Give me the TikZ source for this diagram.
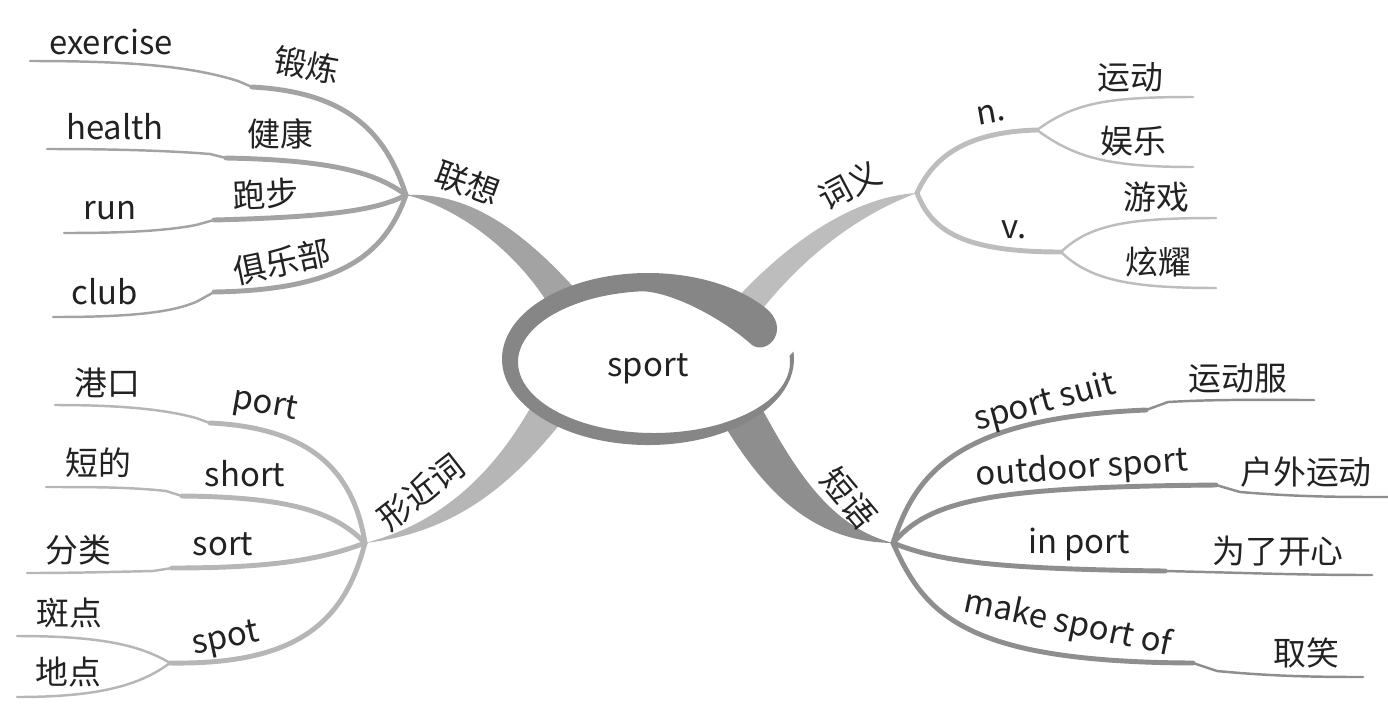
\documentclass[tikz,border=0pt]{standalone}
\usepackage{fontspec}
\setmainfont{Noto Sans CJK SC}
\usetikzlibrary{calc}
\definecolor{ringgray}{HTML}{868686}
\definecolor{lxgray}{HTML}{A3A3A3}
\definecolor{cygray}{HTML}{BDBDBD}
\definecolor{xjgray}{HTML}{B6B6B6}
\definecolor{dygray}{HTML}{8E8E8E}
\definecolor{ink}{HTML}{222222}
\begin{document}
\begin{tikzpicture}[x=0.02cm,y=-0.02cm,
  word/.style={text=ink,inner sep=0pt,font=\fontsize{18.7}{22}\selectfont},
  stem/.style={line width=2.8pt,line cap=round},
  twig/.style={line width=1.4pt,line cap=round,line join=round}]
\useasboundingbox (0,0) rectangle (1388,724);

\coordinate (h1) at (406,195);
\coordinate (h2) at (917,193);
\coordinate (h3) at (365,543);
\coordinate (h4) at (893,543);

\coordinate (p1) at (252,87);  \coordinate (q1) at (238,81);  \coordinate (e1) at (30,61);
\coordinate (p2) at (226,158); \coordinate (q2) at (210,154); \coordinate (e2) at (47,149);
\coordinate (p3) at (214,220); \coordinate (q3) at (196,225); \coordinate (e3) at (64,233);
\coordinate (p4) at (214,292); \coordinate (q4) at (198,301); \coordinate (e4) at (53,317);

\coordinate (n1) at (1037,130); \coordinate (n2) at (1061,252);
\coordinate (e5) at (1193,97);  \coordinate (e6) at (1193,167);
\coordinate (e7) at (1216,218); \coordinate (e8) at (1216,288);

\coordinate (p5) at (210,423); \coordinate (q5) at (196,418); \coordinate (e9) at (55,405);
\coordinate (p6) at (182,496); \coordinate (q6) at (166,491); \coordinate (e10) at (46,487);
\coordinate (p7) at (172,568); \coordinate (q7) at (153,571); \coordinate (e11) at (27,573);
\coordinate (n3) at (170,663);
\coordinate (e12) at (17,636); \coordinate (e13) at (17,697);

\coordinate (p8) at (1146,410);  \coordinate (q8) at (1168,402);  \coordinate (e14) at (1314,400);
\coordinate (p9) at (1216,485);  \coordinate (q9) at (1240,492);  \coordinate (e15) at (1388,497);
\coordinate (p10) at (1165,571); \coordinate (e16) at (1372,575);
\coordinate (p11) at (1193,663); \coordinate (q11) at (1217,671); \coordinate (e17) at (1363,677);

% trunks
\fill[lxgray] (h1) .. controls (465,192) and (520,225) .. (585,300) -- (555,315) .. controls (515,245) and (450,205) .. (h1) -- cycle;
\fill[cygray] (h2) .. controls (860,196) and (795,235) .. (735,300) -- (760,312) .. controls (805,255) and (860,214) .. (h2) -- cycle;
\fill[xjgray] (h3) .. controls (445,522) and (495,470) .. (532,405) -- (565,418) .. controls (515,480) and (460,532) .. (h3) -- cycle;
\fill[dygray] (760,405) .. controls (800,480) and (835,528) .. (h4) .. controls (815,542) and (765,495) .. (720,418) -- cycle;

% centre
\fill[white] (654,362) ellipse[x radius=136,y radius=71];
\fill[ringgray] (648,359) ++(-37:146 and 86) arc[start angle=-37,end angle=-365,x radius=146,y radius=86]
  -- ($(654,362)+(-365:136 and 71)$) arc[start angle=-365,end angle=-95,x radius=136,y radius=71]
  .. controls (672,292) and (722,318) .. (752,345)
  .. controls (768,356) and (792,328) .. ($(648,359)+(-37:146 and 86)$) -- cycle;
\node[word] (sp) at (648,369) {sport};

\draw[lxgray,stem] (h1) .. controls (385,130) and (345,92) .. (p1);
\draw[lxgray,twig] (p1) -- (q1) .. controls (190,66) and (130,61) .. (e1);
\draw[lxgray,stem] (h1) .. controls (375,172) and (330,160) .. (p2);
\draw[lxgray,twig] (p2) -- (q2) .. controls (160,150) and (100,149) .. (e2);
\draw[lxgray,stem] (h1) .. controls (378,210) and (330,217) .. (p3);
\draw[lxgray,twig] (p3) -- (q3) .. controls (160,232) and (110,233) .. (e3);
\draw[lxgray,stem] (h1) .. controls (385,255) and (340,290) .. (p4);
\draw[lxgray,twig] (p4) -- (q4) .. controls (170,314) and (120,317) .. (e4);

\draw[cygray,stem] (h2) .. controls (932,160) and (962,132) .. (n1);
\draw[cygray,twig] (n1) .. controls (1075,102) and (1110,97) .. (e5);
\draw[cygray,twig] (n1) .. controls (1075,158) and (1110,167) .. (e6);
\draw[cygray,stem] (h2) .. controls (932,232) and (965,252) .. (n2);
\draw[cygray,twig] (n2) .. controls (1090,224) and (1130,218) .. (e7);
\draw[cygray,twig] (n2) .. controls (1090,280) and (1130,288) .. (e8);

\draw[xjgray,stem] (h3) .. controls (355,480) and (320,428) .. (p5);
\draw[xjgray,twig] (p5) -- (q5) .. controls (160,408) and (110,405) .. (e9);
\draw[xjgray,stem] (h3) .. controls (335,512) and (290,497) .. (p6);
\draw[xjgray,twig] (p6) -- (q6) .. controls (130,487) and (90,487) .. (e10);
\draw[xjgray,stem] (h3) .. controls (320,560) and (270,568) .. (p7);
\draw[xjgray,twig] (p7) -- (q7) .. controls (110,572) and (70,573) .. (e11);
\draw[xjgray,stem] (h3) .. controls (345,620) and (300,665) .. (n3);
\draw[xjgray,twig] (n3) .. controls (140,645) and (100,636) .. (e12);
\draw[xjgray,twig] (n3) .. controls (140,685) and (100,697) .. (e13);

\draw[dygray,stem] (h4) .. controls (915,475) and (955,418) .. (p8);
\draw[dygray,twig] (p8) -- (q8) .. controls (1220,399) and (1270,400) .. (e14);
\draw[dygray,stem] (h4) .. controls (930,500) and (990,487) .. (p9);
\draw[dygray,twig] (p9) -- (q9) .. controls (1300,497) and (1340,497) .. (e15);
\draw[dygray,stem] (h4) .. controls (940,562) and (1000,569) .. (p10);
\draw[dygray,twig] (p10) .. controls (1250,573) and (1300,575) .. (e16);
\draw[dygray,stem] (h4) .. controls (925,615) and (965,662) .. (p11);
\draw[dygray,twig] (p11) -- (q11) .. controls (1270,676) and (1310,677) .. (e17);

% labels
\node[word,rotate=-20] (lx) at (468,183) {联想};
\node[word,rotate=-10] (t1) at (307,65) {锻炼};
\node[word] (t2) at (111,42) {exercise};
\node[word] (t3) at (280,134) {健康};
\node[word] (t4) at (115,127) {health};
\node[word,rotate=3] (t5) at (266,194) {跑步};
\node[word] (t6) at (110,211) {run};
\node[word,rotate=12] (t7) at (282,262) {俱乐部};
\node[word] (t8) at (105,292) {club};

\node[word,rotate=28] (cy) at (850,185) {词义};
\node[word,rotate=10] (t9) at (991,114) {n.};
\node[word] (t10) at (1130,77) {运动};
\node[word] (t11) at (1133,141) {娱乐};
\node[word] (t12) at (1014,230) {v.};
\node[word] (t13) at (1156,197) {游戏};
\node[word] (t14) at (1158,262) {炫耀};

\node[word,rotate=38] (xj) at (421,492) {形近词};
\node[word] (t15) at (107,383) {港口};
\node[word,rotate=-10] (t16) at (265,406) {port};
\node[word] (t17) at (98,463) {短的};
\node[word] (t18) at (245,474) {short};
\node[word] (t19) at (78,550) {分类};
\node[word] (t20) at (223,544) {sort};
\node[word] (t21) at (69,613) {斑点};
\node[word,rotate=12] (t22) at (226,640) {spot};
\node[word] (t23) at (68,672) {地点};

\node[word,rotate=-50] (dy) at (849,498) {短语};
\node[word,rotate=15] (t24) at (1045,403) {sport suit};
\node[word] (t25) at (1238,378) {运动服};
\node[word,rotate=4] (t26) at (1082,469) {outdoor sport};
\node[word] (t27) at (1306,472) {户外运动};
\node[word] (t28) at (1079,545) {in port};
\node[word] (t29) at (1278,551) {为了开心};
\node[word,rotate=-12] (t30) at (1068,624) {make sport of};
\node[word] (t31) at (1306,653) {取笑};
\end{tikzpicture}
\end{document}
